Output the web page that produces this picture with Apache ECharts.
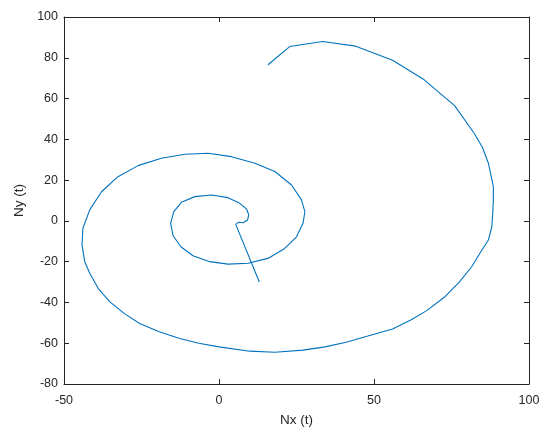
<!DOCTYPE html>
<html>
<head>
<meta charset="utf-8">
<script src="https://cdn.jsdelivr.net/npm/echarts@6/dist/echarts.min.js"></script>
<style>
  html, body { margin: 0; padding: 0; background: #fff; }
  #main { width: 550px; height: 439px; }
</style>
</head>
<body>
<div id="main"></div>
<script>
var nx = [13, 5.4, 6.2, 7.8, 9.2, 9.6, 8.9, 6.7, 2.9, -2.4, -7.8, -12.1, -14.6, -15.6, -14.8, -12.3, -8.4, -3, 2.9, 9.4, 15.8,
  21.2, 25, 27.1, 27.7, 26.6, 23.4, 18, 11.6, 4, -3.5, -11, -18.6, -26.1, -32.6, -37.9, -41.7, -43.9, -44.2, -43.3, -41.7,
  -38.8, -35.2, -30.5, -25.6, -19.5, -12.7, -6.5, 0, 9.9, 18, 27.1, 34.2, 41, 48, 56, 62, 67, 72.9, 77.5, 81.5, 84.5, 86.9, 88, 88.3,
  88.5, 88.5, 86.9, 85, 82.3, 76, 66.2, 56, 44.1, 33.4, 22.8, 15.8];
var ny = [-30, -1.7, -0.7, -0.9, 0.4, 2.9, 5.8, 8.6, 11.4, 12.7, 11.9, 9.1, 4.5, -1.2, -7.3, -12.7, -17.1, -20, -21.2, -20.8, -18.4,
  -13.5, -7.8, -1.2, 4.5, 10.3, 17.6, 24.2, 28.3, 31.5, 33.2, 32.7, 30.7, 27.1, 21.7, 14.3, 5.4, -3.6, -11.8, -20, -25.7,
  -33.5, -39.7, -45.5, -50.3, -54.3, -57.7, -60, -61.8, -63.9, -64.4, -63.4, -61.8, -59.5, -56.5, -53, -48.5, -44, -37.2, -30, -22.5, -15, -9.4, -3, 3.7,
  10.3, 16.8, 28.3, 36, 43, 56.5, 69.2, 78.8, 85.7, 88, 85.5, 76.6];

var xTicks = { min: -50, max: 100, step: 50 };
var yTicks = { min: -80, max: 100, step: 20 };

var pts = nx.map(function (x, i) { return [x, ny[i]]; });

var chart = echarts.init(document.getElementById('main'));
var axisCol = '#262626';
var font = 'Liberation Sans, Arial, Helvetica, sans-serif';

function boxAxis(pos, t, show) {
  return {
    type: 'value', position: pos, min: t.min, max: t.max, interval: t.step,
    axisLine: { show: true, onZero: false, lineStyle: { color: axisCol, width: 1 } },
    axisTick: { show: true, inside: true, length: 5, lineStyle: { color: axisCol } },
    axisLabel: { show: show, color: axisCol, fontSize: 12.5, fontFamily: font, margin: pos === 'bottom' ? 10 : 6 },
    splitLine: { show: false }
  };
}

var xb = boxAxis('bottom', xTicks, true);
xb.name = 'Nx (t)'; xb.nameLocation = 'middle'; xb.nameGap = 29;
xb.nameTextStyle = { color: axisCol, fontSize: 13.5, fontFamily: font };
var yl = boxAxis('left', yTicks, true);
yl.name = 'Ny (t)'; yl.nameLocation = 'middle'; yl.nameGap = 37;
yl.nameTextStyle = { color: axisCol, fontSize: 13.5, fontFamily: font };

chart.setOption({
  animation: false,
  backgroundColor: '#fff',
  grid: { left: 64, right: 21, top: 17, bottom: 55 },
  xAxis: [xb, boxAxis('top', xTicks, false)],
  yAxis: [yl, boxAxis('right', yTicks, false)],
  series: [{
    type: 'line',
    data: pts,
    showSymbol: false,
    smooth: false,
    lineStyle: { color: '#0072BD', width: 1.1 }
  }]
});
</script>
</body>
</html>
